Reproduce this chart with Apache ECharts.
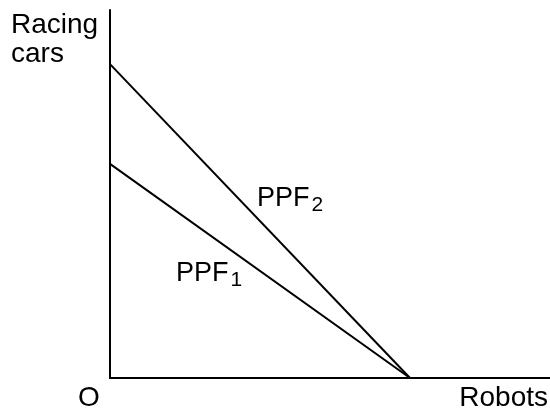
<!DOCTYPE html>
<html>
<head>
<meta charset="utf-8">
<script src="https://cdn.jsdelivr.net/npm/echarts@6/dist/echarts.min.js"></script>
<style>html,body{margin:0;padding:0;background:#fff}#c{width:550px;height:412px}</style>
</head>
<body>
<div id="c"></div>
<script>
// Data (arbitrary units)
const seriesNames = ['PPF1', 'PPF2'];
const ppf1 = [[0, 5.82], [7.5, 0]];
const ppf2 = [[0, 8.53], [7.5, 0]];
const axisTitles = { y: 'Racing\ncars', x: 'Robots', origin: 'O' };

const FONT = 'Liberation Sans, Arial, sans-serif';
const chart = echarts.init(document.getElementById('c'), null, { renderer: 'canvas' });
const axisCommon = {
  type: 'value',
  axisLine: { show: true, onZero: false, lineStyle: { color: '#000', width: 2 } },
  axisTick: { show: false },
  axisLabel: { show: false },
  splitLine: { show: false }
};
const lineSeries = (name, data) => ({
  name, type: 'line', data, symbol: 'none', silent: true,
  lineStyle: { color: '#000', width: 2 }
});
const ppfLabel = (n) => ({
  text: '{a|PPF}{b|' + n + '}',
  rich: {
    a: { fontSize: 27, fontFamily: FONT, fill: '#000', lineHeight: 27 },
    b: { fontSize: 21, fontFamily: FONT, fill: '#000', lineHeight: 21, padding: [14, 0, 0, 2] }
  }
});
chart.setOption({
  animation: false,
  backgroundColor: '#fff',
  grid: { left: 110, right: 0, top: 10, bottom: 34 },
  xAxis: Object.assign({ min: 0, max: 11 }, axisCommon),
  yAxis: Object.assign({ min: 0, max: 10 }, axisCommon),
  series: [lineSeries(seriesNames[0], ppf1), lineSeries(seriesNames[1], ppf2)],
  graphic: [
    { type: 'text', left: 11, top: 11, style: { text: axisTitles.y, fontSize: 28, lineHeight: 29, fontFamily: FONT, fill: '#000' } },
    { type: 'text', left: 78, top: 384, style: { text: axisTitles.origin, fontSize: 28, fontFamily: FONT, fill: '#000' } },
    { type: 'text', right: 2, top: 384, style: { text: axisTitles.x, fontSize: 28, fontFamily: FONT, fill: '#000' } },
    { type: 'text', left: 257, top: 181, style: ppfLabel('2') },
    { type: 'text', left: 176, top: 256, style: ppfLabel('1') }
  ]
});
</script>
</body>
</html>
